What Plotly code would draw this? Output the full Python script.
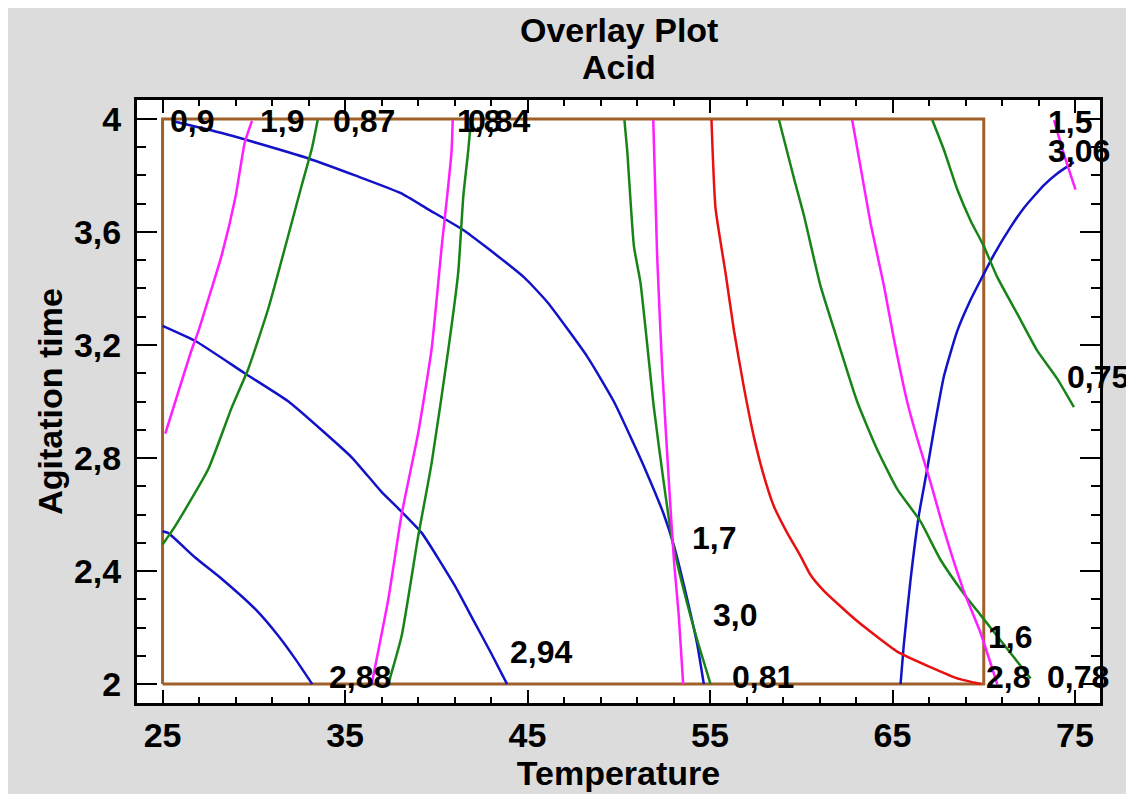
import plotly.graph_objects as go

# ---- contour lines (Temperature, Agitation time) ----
# blue response: 2,88 / 2,94 / 3,0 / 3,06
blue_288_x = [25.0, 25.3, 26.8, 28.25, 30.1, 31.35, 32.26, 33.2]
blue_288_y = [2.541, 2.535, 2.447, 2.372, 2.264, 2.17, 2.09, 2.0]
blue_294_x = [25.0, 26.8, 29.5, 31.9, 33.7, 35.4, 37.0, 38.1, 39.2, 41.0, 42.0, 43.0, 43.88]
blue_294_y = [3.268, 3.214, 3.10, 3.0, 2.90, 2.80, 2.68, 2.61, 2.535, 2.35, 2.23, 2.11, 2.0]
blue_300_x = [25.7, 28.25, 29.9, 33.0, 35.55, 38.03, 39.56, 41.48, 42.66, 44.8, 46.08,
              48.28, 49.73, 50.8, 51.38, 52.47, 53.02, 53.75, 54.3, 54.66]
blue_300_y = [3.99, 3.95, 3.92, 3.86, 3.80, 3.738, 3.68, 3.607, 3.55, 3.44, 3.352,
              3.158, 3.0, 2.853, 2.77, 2.60, 2.49, 2.30, 2.14, 2.0]
blue_306_x = [65.44, 65.62, 65.99, 66.45, 66.9, 67.27, 67.82, 68.55, 69.28, 69.83, 70.56,
              71.47, 72.2, 73.3, 74.03, 74.94]
blue_306_y = [2.0, 2.14, 2.37, 2.60, 2.76, 2.9, 3.09, 3.25, 3.36, 3.43, 3.52,
              3.617, 3.685, 3.766, 3.807, 3.847]

# green response: 0,87 / 0,84 / 0,81 / 0,78 / 0,75
green_087_x = [25.0, 25.7, 27.5, 28.8, 29.7, 30.8, 31.9, 32.63, 33.2, 33.5]
green_087_y = [2.494, 2.56, 2.76, 2.98, 3.116, 3.33, 3.59, 3.766, 3.90, 3.996]
green_084_x = [37.37, 38.1, 39.0, 39.74, 40.66, 41.2, 41.48, 41.75, 41.9]
green_084_y = [2.0, 2.17, 2.52, 2.78, 3.184, 3.455, 3.725, 3.888, 3.996]
green_081_x = [50.31, 50.46, 50.83, 51.19, 51.92, 52.47, 52.93, 53.57, 54.3, 55.03]
green_081_y = [3.996, 3.89, 3.55, 3.42, 2.98, 2.71, 2.51, 2.33, 2.156, 2.0]
green_078_x = [58.78, 59.6, 60.14, 61.05, 61.97, 63.06, 64.16, 65.26, 66.54, 67.63, 68.91,
               69.83, 71.1, 72.57]
green_078_y = [3.996, 3.79, 3.66, 3.41, 3.22, 3.0, 2.83, 2.69, 2.575, 2.44, 2.32,
               2.244, 2.14, 2.02]
green_075_x = [67.18, 67.82, 68.55, 69.28, 70.0, 70.74, 71.84, 72.93, 74.03, 74.94]
green_075_y = [3.996, 3.89, 3.75, 3.64, 3.55, 3.44, 3.31, 3.18, 3.08, 2.98]

# magenta response: 1,9 / 1,8 / 1,7 / 1,6 / 1,5
mag_19_x = [25.15, 26.6, 26.97, 27.5, 28.25, 29.0, 29.5, 29.9]
mag_19_y = [2.886, 3.184, 3.25, 3.36, 3.52, 3.725, 3.915, 3.993]
mag_18_x = [36.46, 37.37, 38.1, 39.0, 39.74, 40.3, 40.66, 40.84, 40.9]
mag_18_y = [2.0, 2.30, 2.60, 2.886, 3.184, 3.55, 3.766, 3.888, 3.996]
mag_17_x = [51.89, 52.1, 52.38, 52.75, 53.02, 53.29, 53.53]
mag_17_y = [3.996, 3.52, 3.116, 2.71, 2.44, 2.24, 2.0]
mag_16_x = [62.79, 63.25, 63.8, 64.53, 65.08, 65.8, 66.35, 67.1, 67.8, 68.9, 69.83, 70.74]
mag_16_y = [3.996, 3.83, 3.63, 3.41, 3.22, 3.0, 2.87, 2.71, 2.55, 2.33, 2.18, 2.0]
mag_15_x = [73.85, 74.4, 75.03]
mag_15_y = [3.996, 3.874, 3.75]

# red response: 2,8
red_28_x = [55.08, 55.3, 55.85, 56.31, 56.86, 57.41, 57.95, 58.5, 59.23, 59.96, 60.51,
            61.24, 63.06, 65.26, 67.08, 68.55, 69.83]
red_28_y = [3.996, 3.685, 3.455, 3.252, 3.049, 2.873, 2.737, 2.629, 2.535, 2.453, 2.386,
            2.33, 2.223, 2.115, 2.06, 2.02, 2.0]

# contour labels
label_text = ["0,9", "1,9", "0,87", "1,8", "0,84", "1,5", "3,06", "0,75", "1,7", "3,0",
              "2,94", "2,88", "0,81", "1,6", "2,8", "0,78"]
label_x = [25.31, 30.25, 34.25, 41.05, 41.65, 73.4, 73.4, 74.45, 53.93, 55.08,
           43.95, 34.03, 56.07, 70.15, 70.04, 73.34]
label_y = [3.993, 3.993, 3.993, 3.993, 3.993, 3.99, 3.885, 3.087, 2.517, 2.244,
           2.113, 2.025, 2.025, 2.166, 2.025, 2.025]

# feasible region box
box_x = [25, 70]
box_y = [2, 4]

# axes
x_ticks = [25, 35, 45, 55, 65, 75]
y_ticks = [2, 2.4, 2.8, 3.2, 3.6, 4]
y_ticktext = ["2", "2,4", "2,8", "3,2", "3,6", "4"]

BLUE = "#1212C8"
GREEN = "#188418"
MAG = "#FF1EFF"
RED = "#E81010"
BROWN = "#A0602A"

curves = [
    (blue_288_x, blue_288_y, BLUE), (blue_294_x, blue_294_y, BLUE),
    (blue_300_x, blue_300_y, BLUE), (blue_306_x, blue_306_y, BLUE),
    (green_087_x, green_087_y, GREEN), (green_084_x, green_084_y, GREEN),
    (green_081_x, green_081_y, GREEN), (green_078_x, green_078_y, GREEN),
    (green_075_x, green_075_y, GREEN),
    (mag_19_x, mag_19_y, MAG), (mag_18_x, mag_18_y, MAG), (mag_17_x, mag_17_y, MAG),
    (mag_16_x, mag_16_y, MAG), (mag_15_x, mag_15_y, MAG),
    (red_28_x, red_28_y, RED),
]

FONT = "Liberation Sans, Arial, sans-serif"

fig = go.Figure()

# brown box
fig.add_trace(go.Scatter(
    x=[box_x[0], box_x[1], box_x[1], box_x[0], box_x[0]],
    y=[box_y[0], box_y[0], box_y[1], box_y[1], box_y[0]],
    mode="lines", line=dict(color=BROWN, width=3), hoverinfo="skip"))

for cx, cy, col in curves:
    fig.add_trace(go.Scatter(x=cx, y=cy, mode="lines",
                             line=dict(color=col, width=2.5, shape="spline", smoothing=0.5)))

for t, lx, ly in zip(label_text, label_x, label_y):
    fig.add_annotation(x=lx, y=ly, text=t, showarrow=False, xanchor="left", yanchor="middle",
                       xref="x", yref="y",
                       font=dict(family=FONT, size=32, color="black", weight="bold"))

# title (two lines)
fig.add_annotation(x=0.5, y=1.1157, xref="paper", yref="paper", text="Overlay Plot",
                   showarrow=False, xanchor="center", yanchor="middle",
                   font=dict(family=FONT, size=34, color="black", weight="bold"))
fig.add_annotation(x=0.5, y=1.0545, xref="paper", yref="paper", text="Acid",
                   showarrow=False, xanchor="center", yanchor="middle",
                   font=dict(family=FONT, size=34, color="black", weight="bold"))

fig.update_layout(
    width=1134, height=794,
    paper_bgcolor="#DCDCDC", plot_bgcolor="white",
    showlegend=False,
    margin=dict(l=129, r=42, t=92, b=99),
    font=dict(family=FONT, color="black"),
)

fig.update_xaxes(
    range=[23.6, 76.37], showgrid=False, zeroline=False,
    showline=True, linecolor="black", linewidth=3, mirror="allticks",
    ticks="inside", ticklen=13, tickwidth=2, tickcolor="black",
    tickvals=x_ticks, ticktext=[str(v) for v in x_ticks],
    tickfont=dict(family=FONT, size=34, color="black", weight="bold"),
    minor=dict(dtick=2, tick0=25, ticks="inside", ticklen=6, tickwidth=2, tickcolor="black",
               showgrid=False),
    title=dict(text="Temperature", standoff=8,
               font=dict(family=FONT, size=34, color="black", weight="bold")),
)
fig.update_yaxes(
    range=[1.933, 4.067], showgrid=False, zeroline=False,
    showline=True, linecolor="black", linewidth=3, mirror="allticks",
    ticks="inside", ticklen=20, tickwidth=2, tickcolor="black",
    tickvals=y_ticks, ticktext=y_ticktext,
    ticklabelstandoff=6,
    tickfont=dict(family=FONT, size=34, color="black", weight="bold"),
    minor=dict(dtick=0.1, tick0=2, ticks="inside", ticklen=9, tickwidth=2, tickcolor="black",
               showgrid=False),
    title=dict(text="Agitation time", standoff=2,
               font=dict(family=FONT, size=34, color="black", weight="bold")),
)

fig.write_html("out.html")
